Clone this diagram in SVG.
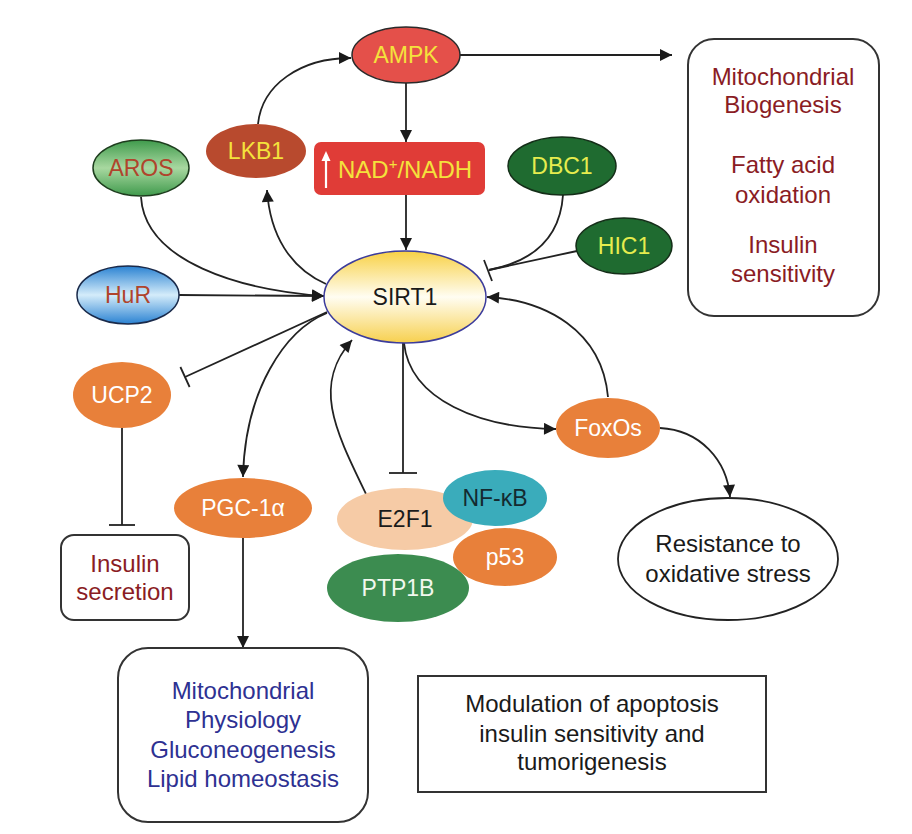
<svg xmlns="http://www.w3.org/2000/svg" width="912" height="834" viewBox="0 0 912 834">
<defs>
<marker id="arr" viewBox="0 0 10 10" refX="10" refY="5" markerWidth="14" markerHeight="12" markerUnits="userSpaceOnUse" orient="auto"><path d="M0,0 L10,5 L0,10 z" fill="#1a1a1a"/></marker>
<linearGradient id="gSirt" x1="0" y1="0" x2="0" y2="1"><stop offset="0" stop-color="#f8d145"/><stop offset="0.5" stop-color="#fffdf2"/><stop offset="1" stop-color="#f7d04e"/></linearGradient>
<linearGradient id="gAros" x1="0" y1="0" x2="0" y2="1"><stop offset="0" stop-color="#3f9a4c"/><stop offset="0.5" stop-color="#a8d8a0"/><stop offset="1" stop-color="#3f9a4c"/></linearGradient>
<linearGradient id="gHur" x1="0" y1="0" x2="0" y2="1"><stop offset="0" stop-color="#2a82d2"/><stop offset="0.5" stop-color="#d4ecfa"/><stop offset="1" stop-color="#2a82d2"/></linearGradient>
</defs>
<style>
.t{font-family:"Liberation Sans",Arial,Helvetica,sans-serif;text-anchor:middle}
.n{font-size:23px}
.b{font-size:24px}
.yl{fill:#f4e23c}
.gy{fill:#e6ec4e}
.wh{fill:#ffffff}
.bk{fill:#1a1a1a}
.rd{fill:#b0442c}
.dr{fill:#8a1c24}
.bl{fill:#2e3192}
.or{fill:#e8803a}
.c{fill:none;stroke:#222;stroke-width:1.8}
.box{fill:#fff;stroke:#333;stroke-width:2}
</style>
<rect width="912" height="834" fill="#fff"/>

<g id="connectors">
<path class="c" d="M258 124 C262 85 300 58 351 58" marker-end="url(#arr)"/>
<path class="c" d="M406 83 L406 142" marker-end="url(#arr)"/>
<path class="c" d="M460 55 L672 55" marker-end="url(#arr)"/>
<path class="c" d="M406 195 L406 250" marker-end="url(#arr)"/>
<path class="c" d="M326 284 C290 268 270 235 267 190" marker-end="url(#arr)"/>
<path class="c" d="M141 197 C145 262 240 290 324 296" marker-end="url(#arr)"/>
<path class="c" d="M179 295 L324 296" marker-end="url(#arr)"/>
<path class="c" d="M327 312 L185 377"/>
<path class="c" d="M180.4 367 L189.6 387"/>
<path class="c" d="M122 428 L122 525"/>
<path class="c" d="M109 525 L135 525"/>
<path class="c" d="M327 313 C285 330 245 390 243 477" marker-end="url(#arr)"/>
<path class="c" d="M243 538 L243 648" marker-end="url(#arr)"/>
<path class="c" d="M403 343 L403 473"/>
<path class="c" d="M389 473 L417 473"/>
<path class="c" d="M366 494 C335 430 312 385 352 340" marker-end="url(#arr)"/>
<path class="c" d="M404 343 C410 400 480 428 556 429" marker-end="url(#arr)"/>
<path class="c" d="M608 397 C602 330 545 300 487 297" marker-end="url(#arr)"/>
<path class="c" d="M660 428 C700 430 727 460 730 497" marker-end="url(#arr)"/>
<path class="c" d="M563 195 C560 240 530 262 489 270"/>
<path class="c" d="M577 251 L489 270"/>
<path class="c" d="M484 260 L492 281"/>
</g>

<g id="AMPK"><ellipse cx="406" cy="55" rx="54" ry="28" fill="#e4504a" stroke="#2a2a2a" stroke-width="1.5"/><text class="t n yl" x="406" y="63">AMPK</text></g>
<g id="LKB1"><ellipse cx="256" cy="151" rx="50" ry="27" fill="#b84a2e"/><text class="t n yl" x="256" y="159">LKB1</text></g>
<g id="NAD"><rect x="314" y="142" width="171" height="53" rx="7" fill="#e03c37"/>
<path d="M326 188 L326 157" stroke="#fff" stroke-width="2.2" fill="none"/><path d="M321.5 161 L326 151 L330.5 161 z" fill="#fff"/>
<text x="338" y="178" fill="#f4e23c" font-size="24" font-family="Liberation Sans, Arial, sans-serif">NAD<tspan dy="-9" font-size="15">+</tspan><tspan dy="9">/NADH</tspan></text></g>
<g id="AROS"><ellipse cx="141" cy="168" rx="48" ry="28" fill="url(#gAros)" stroke="#1d3d1d" stroke-width="1.5"/><text class="t n rd" x="141" y="176">AROS</text></g>
<g id="DBC1"><ellipse cx="562" cy="166" rx="54" ry="29" fill="#1f6b30" stroke="#142e18" stroke-width="1.5"/><text class="t n gy" x="562" y="174">DBC1</text></g>
<g id="HIC1"><ellipse cx="624" cy="246" rx="48" ry="28" fill="#1f6b30" stroke="#142e18" stroke-width="1.5"/><text class="t n gy" x="624" y="254">HIC1</text></g>
<g id="HuR"><ellipse cx="128" cy="295" rx="51" ry="29" fill="url(#gHur)" stroke="#1a2a4a" stroke-width="1.5"/><text class="t n rd" x="128" y="303">HuR</text></g>
<g id="SIRT1"><ellipse cx="405" cy="297" rx="81" ry="46" fill="url(#gSirt)" stroke="#3c3c9c" stroke-width="1.5"/><text class="t n bk" x="405" y="305">SIRT1</text></g>
<g id="UCP2"><ellipse cx="122" cy="395" rx="49" ry="33" class="or"/><text class="t n wh" x="122" y="403">UCP2</text></g>
<g id="PGC1a"><ellipse cx="243" cy="508" rx="69" ry="30" class="or"/><text class="t n wh" x="243" y="516">PGC-1α</text></g>
<g id="FoxOs"><ellipse cx="608" cy="428" rx="52" ry="30" class="or"/><text class="t n wh" x="608" y="436">FoxOs</text></g>
<g id="E2F1"><ellipse cx="405" cy="519" rx="68" ry="31" fill="#f6cba6"/><text class="t n bk" x="405" y="527">E2F1</text></g>
<g id="NFkB"><ellipse cx="495" cy="498" rx="52" ry="28" fill="#3aacbb"/><text class="t n" x="495" y="506" fill="#142a30">NF-κB</text></g>
<g id="p53"><ellipse cx="505" cy="557" rx="52" ry="29" class="or"/><text class="t n wh" x="505" y="565">p53</text></g>
<g id="PTP1B"><ellipse cx="398" cy="588" rx="71" ry="34" fill="#3c8c50"/><text class="t n" x="398" y="596" fill="#f2f8ee">PTP1B</text></g>

<g id="box-right"><rect class="box" x="688" y="39" width="191" height="277" rx="26"/>
<text class="t b dr" x="783" y="85">Mitochondrial</text><text class="t b dr" x="783" y="113">Biogenesis</text>
<text class="t b dr" x="783" y="173">Fatty acid</text><text class="t b dr" x="783" y="203">oxidation</text>
<text class="t b dr" x="783" y="253">Insulin</text><text class="t b dr" x="783" y="282">sensitivity</text></g>
<g id="box-insulin"><rect class="box" x="61" y="535" width="128" height="85" rx="13"/>
<text class="t b dr" x="125" y="572">Insulin</text><text class="t b dr" x="125" y="600">secretion</text></g>
<g id="box-mito"><rect class="box" x="118" y="648" width="250" height="174" rx="30"/>
<text class="t b bl" x="243" y="699">Mitochondrial</text><text class="t b bl" x="243" y="728">Physiology</text>
<text class="t b bl" x="243" y="758">Gluconeogenesis</text><text class="t b bl" x="243" y="787">Lipid homeostasis</text></g>
<g id="box-modulation"><rect class="box" x="418" y="676" width="348" height="116"/>
<text class="t b bk" x="592" y="712">Modulation of apoptosis</text><text class="t b bk" x="592" y="742">insulin sensitivity and</text><text class="t b bk" x="592" y="770">tumorigenesis</text></g>
<g id="resistance"><ellipse cx="728" cy="559" rx="110" ry="61" fill="#fff" stroke="#222" stroke-width="1.8"/>
<text class="t b bk" x="728" y="552">Resistance to</text><text class="t b bk" x="728" y="582">oxidative stress</text></g>
</svg>
